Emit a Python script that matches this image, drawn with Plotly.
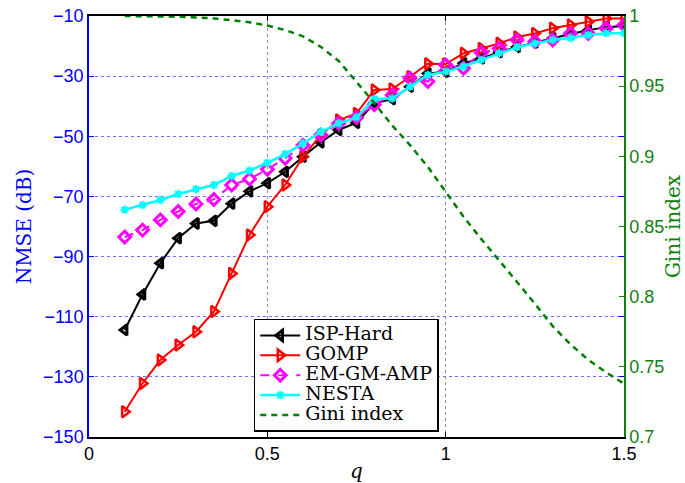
import plotly.graph_objects as go

q = [0.10, 0.15, 0.20, 0.25, 0.30, 0.35, 0.40, 0.45, 0.50, 0.55,
     0.60, 0.65, 0.70, 0.75, 0.80, 0.85, 0.90, 0.95, 1.00, 1.05,
     1.10, 1.15, 1.20, 1.25, 1.30, 1.35, 1.40, 1.45, 1.50]

isp_hard = [-114.4, -102.6, -92.2, -83.9, -79.0, -78.1, -72.4, -68.3, -65.6, -61.8,
            -56.8, -52.0, -47.9, -45.5, -39.0, -37.6, -33.5, -29.1, -28.5, -25.7,
            -24.1, -22.0, -20.3, -18.8, -17.4, -16.0, -14.7, -13.7, -13.3]

gomp = [-141.6, -132.2, -124.4, -119.4, -115.0, -108.3, -95.6, -82.8, -73.4, -66.2,
        -56.8, -49.6, -44.6, -42.4, -34.6, -34.3, -30.2, -25.9, -26.0, -22.4,
        -20.8, -19.1, -17.0, -15.8, -14.1, -13.0, -11.9, -10.8, -10.8]

em_gm_amp = [-83.5, -81.2, -77.8, -75.0, -72.5, -71.0, -66.2, -64.2, -61.0, -57.3,
             -53.0, -49.6, -45.7, -43.8, -39.5, -36.3, -30.7, -31.8, -26.3, -27.4,
             -22.2, -20.8, -18.0, -18.5, -18.0, -15.8, -15.8, -14.1, -13.0]

nesta = [-74.4, -72.9, -71.2, -69.2, -67.6, -66.2, -63.2, -61.4, -58.8, -55.9,
         -52.4, -48.5, -45.7, -43.7, -37.6, -37.4, -33.5, -29.6, -28.5, -26.8,
         -24.6, -22.4, -20.4, -19.1, -18.0, -17.3, -16.3, -15.7, -15.7]

gini = [1.000, 0.9999, 0.9998, 0.9995, 0.999, 0.9983, 0.997, 0.9955, 0.9932, 0.990,
        0.9855, 0.978, 0.968, 0.953, 0.938, 0.922, 0.908, 0.8925, 0.875, 0.857,
        0.841, 0.826, 0.8105, 0.795, 0.779, 0.766, 0.755, 0.746, 0.738]

series_names = ["ISP-Hard", "GOMP", "EM-GM-AMP", "NESTA", "Gini index"]

x_ticks = [0, 0.5, 1, 1.5]
x_ticktext = ["0", "0.5", "1", "1.5"]
y_ticks = [-150, -130, -110, -90, -70, -50, -30, -10]
y_ticktext = ["\u2212150", "\u2212130", "\u2212110", "\u221290", "\u221270", "\u221250", "\u221230", "\u221210"]
y2_ticks = [0.7, 0.75, 0.8, 0.85, 0.9, 0.95, 1.0]
y2_ticktext = ["0.7", "0.75", "0.8", "0.85", "0.9", "0.95", "1"]

SANS = "Liberation Sans, Arial, sans-serif"
SERIF = "DejaVu Serif, serif"
BLUE = "#0000FF"
GREEN = "#108010"


def legend_name(s):
    return '<span style="font-size:19px">' + s + '</span>'


fig = go.Figure()
fig.add_trace(go.Scatter(x=q, y=isp_hard, name=legend_name(series_names[0]), mode="lines+markers",
                         line=dict(color="black", width=2),
                         marker=dict(symbol="triangle-left-open", size=9, color="black",
                                     line=dict(width=3, color="black"))))
fig.add_trace(go.Scatter(x=q, y=gomp, name=legend_name(series_names[1]), mode="lines+markers",
                         line=dict(color="#FF0000", width=2),
                         marker=dict(symbol="triangle-right-open", size=10, color="#FF0000",
                                     line=dict(width=2.5, color="#FF0000"))))
fig.add_trace(go.Scatter(x=q, y=em_gm_amp, name=legend_name(series_names[2]), mode="lines+markers",
                         line=dict(color="#FF00FF", width=2, dash="dash"),
                         marker=dict(symbol="diamond-open", size=9, color="#FF00FF",
                                     line=dict(width=3, color="#FF00FF"))))
fig.add_trace(go.Scatter(x=q, y=nesta, name=legend_name(series_names[3]), mode="lines+markers",
                         line=dict(color="#00FFFF", width=2.5),
                         marker=dict(symbol="asterisk-open", size=7, color="#00FFFF",
                                     line=dict(width=2, color="#00FFFF"))))
fig.add_trace(go.Scatter(x=q, y=gini, name=legend_name(series_names[4]), mode="lines", yaxis="y2",
                         cliponaxis=False,
                         line=dict(color="#008000", width=2.5, dash="6px,5px")))

fig.update_layout(
    width=685, height=483,
    margin=dict(l=89, r=61, t=16, b=46, autoexpand=False),
    paper_bgcolor="white", plot_bgcolor="white",
    showlegend=True,
    legend=dict(x=0.308, y=0.012, xanchor="left", yanchor="bottom",
                bgcolor="white", bordercolor="black", borderwidth=1.5,
                font=dict(family=SERIF, size=13, color="black"),
                tracegroupgap=0, itemwidth=40),
    xaxis=dict(range=[0, 1.5], tickvals=x_ticks, ticktext=x_ticktext, automargin=False,
               showline=True, linecolor="black", linewidth=1.5, mirror="ticks",
               ticks="inside", ticklen=5, tickcolor="black",
               showgrid=True, gridcolor="#909090", griddash="dot", gridwidth=1,
               zeroline=False,
               tickfont=dict(family=SANS, size=18, color="black"),
               title=dict(text="<i>q</i>", font=dict(family=SERIF, size=20, color="black"),
                          standoff=2)),
    yaxis=dict(range=[-150, -10], tickvals=y_ticks, ticktext=y_ticktext, automargin=False,
               showline=True, linecolor=BLUE, linewidth=1.5, mirror="ticks",
               ticks="inside", ticklen=5, tickcolor=BLUE,
               showgrid=True, gridcolor="#7070ff", griddash="dot", gridwidth=1,
               zeroline=False,
               tickfont=dict(family=SANS, size=18, color=BLUE),
               title=dict(text="NMSE (dB)", font=dict(family=SERIF, size=20, color=BLUE),
                          standoff=6)),
    yaxis2=dict(range=[0.7, 1.0], overlaying="y", side="right", automargin=False,
                tickvals=y2_ticks, ticktext=y2_ticktext,
                showline=True, linecolor=GREEN, linewidth=1.5,
                ticks="inside", ticklen=5, tickcolor=GREEN,
                showgrid=False, zeroline=False,
                tickfont=dict(family=SANS, size=18, color=GREEN),
                title=dict(text="Gini index", font=dict(family=SERIF, size=20, color=GREEN),
                           standoff=2)),
)

# remove the default 8px page margin so the figure sits at the window's top-left corner
fig.write_html("out.html", config={"displayModeBar": False},
               post_script="document.body.style.margin='0';")
